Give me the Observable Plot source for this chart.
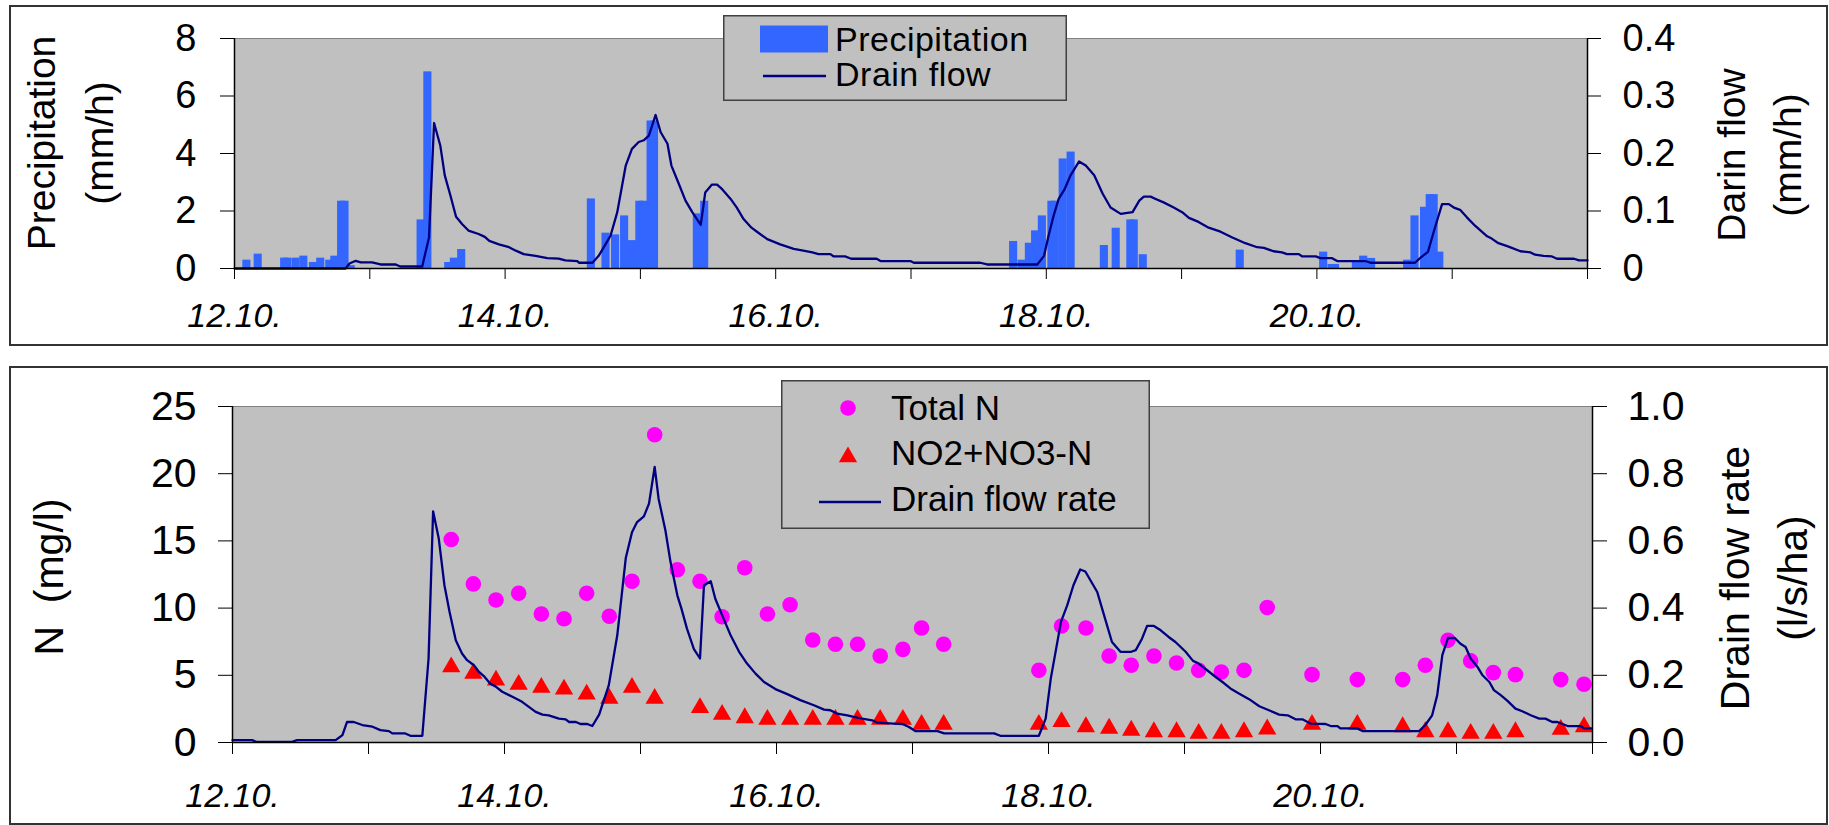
<!DOCTYPE html>
<html><head><meta charset="utf-8">
<script src="https://cdn.jsdelivr.net/npm/d3@7"></script>
<script src="https://cdn.jsdelivr.net/npm/@observablehq/plot@0.6"></script>
<style>
html,body{margin:0;padding:0;background:#fff;width:1829px;height:825px;overflow:hidden;font-family:"Liberation Sans",Arial,sans-serif;}
.panel{position:absolute;border:2px solid #333;box-sizing:border-box;}
#p1{left:9px;top:5px;width:1819px;height:341px;}
#p2{left:9px;top:366px;width:1819px;height:459px;}
.chart{position:absolute;left:0;}
#c1{top:0;} #c2{top:350px;}
.ytitle{position:absolute;transform:translate(-50%,-50%) rotate(-90deg);white-space:pre;text-align:center;color:#000;}
.legend{position:absolute;z-index:5;}
</style></head>
<body>
<div class="panel" id="p1"></div>
<div class="panel" id="p2"></div>
<div class="chart" id="c1"></div>
<div class="chart" id="c2"></div>
<div class="ytitle" style="left:71px;top:143px;font-size:39px;line-height:58px;">Precipitation
(mm/h)</div>
<div class="ytitle" style="left:1760px;top:155px;font-size:39px;line-height:56px;">Darin flow
(mm/h)</div>
<div class="ytitle" style="left:49px;top:577px;font-size:41px;line-height:46px;">N  (mg/l)</div>
<div class="ytitle" style="left:1764px;top:578px;font-size:41px;line-height:58px;">Drain flow rate
(l/s/ha)</div>
<div class="legend" id="leg1" style="left:723px;top:15px;"></div>
<div class="legend" id="leg2" style="left:781px;top:380px;"></div>
<script>
// ---------- data (hours from 12.10. 00:00) ----------
const xDomain = [0, 240];
const dayTicks = [0, 24, 48, 72, 96, 120, 144, 168, 192, 216, 240];
const dayLabels = ["12.10.", "", "14.10.", "", "16.10.", "", "18.10.", "", "20.10.", "", ""];

const precipTime = [2.2, 4.2, 8.9, 9.4, 10.9, 12.3, 14.0, 15.3, 16.9, 17.8, 19.0, 19.6, 20.7, 33.1, 34.3, 38.0, 39.0, 40.3, 63.3, 65.9, 67.6, 69.2, 70.6, 71.9, 72.6, 73.9, 74.5, 82.1, 83.4, 138.2, 139.7, 141.0, 142.1, 143.3, 145.0, 145.6, 147.0, 148.4, 154.3, 156.4, 159.0, 159.6, 161.2, 178.4, 193.2, 194.7, 195.3, 199.0, 200.3, 201.7, 208.1, 209.4, 211.1, 212.1, 212.8, 213.8];
const precipRate = [0.29, 0.50, 0.36, 0.36, 0.36, 0.43, 0.21, 0.36, 0.29, 0.43, 2.34, 2.34, 0.10, 1.69, 6.84, 0.21, 0.36, 0.66, 2.42, 1.23, 1.17, 1.83, 0.97, 2.34, 2.34, 5.13, 5.13, 1.90, 2.34, 0.94, 0.29, 0.88, 1.31, 1.83, 2.34, 2.34, 3.81, 4.05, 0.80, 1.40, 1.69, 1.69, 0.48, 0.64, 0.57, 0.14, 0.14, 0.21, 0.43, 0.35, 0.29, 1.83, 2.13, 2.57, 2.57, 0.57];

const flowTopTime = [0, 19.7, 20.4, 21.5, 22.4, 24.4, 25.9, 28.6, 29.4, 33.3, 34.5, 35.4, 36.5, 37.3, 38.3, 39.3, 40.4, 41.5, 43.3, 44.4, 45.2, 46.9, 48.7, 49.9, 51.3, 53.4, 55.5, 57.5, 58.7, 60.8, 61.1, 63.5, 64.6, 65.8, 66.7, 67.9, 69.4, 70.5, 71.7, 72.6, 73.5, 74.7, 75.6, 76.8, 77.5, 78.7, 80.0, 81.2, 82.7, 83.5, 84.7, 85.6, 86.5, 88.0, 89.1, 90.3, 91.7, 92.8, 94.5, 96.8, 99.2, 100.9, 102.5, 103.6, 105.7, 106.3, 108.3, 109.4, 113.9, 114.6, 119.9, 120.5, 132.3, 133.5, 142.4, 143.6, 144.4, 145.3, 146.2, 147.2, 148.3, 149.8, 151.0, 152.5, 154.0, 155.4, 157.2, 159.3, 160.5, 161.3, 162.5, 163.4, 164.8, 166.6, 168.1, 169.3, 171.0, 172.8, 174.9, 177.0, 179.3, 181.4, 182.6, 184.3, 185.8, 186.7, 188.8, 189.4, 191.8, 192.6, 194.7, 195.6, 200.6, 201.5, 209.4, 210.4, 211.7, 212.7, 214.2, 215.4, 216.3, 217.4, 218.6, 220.1, 222.2, 223.0, 224.2, 226.0, 228.1, 229.9, 230.7, 232.2, 233.7, 234.6, 237.6, 238.5, 240.0];
const flowTopValue = [0, 0, 0.0087, 0.0134, 0.0105, 0.0105, 0.007, 0.007, 0.0035, 0.0035, 0.054, 0.253, 0.214, 0.162, 0.127, 0.090, 0.077, 0.066, 0.060, 0.055, 0.048, 0.042, 0.037, 0.031, 0.025, 0.022, 0.018, 0.017, 0.014, 0.013, 0.010, 0.010, 0.022, 0.042, 0.057, 0.098, 0.179, 0.208, 0.220, 0.223, 0.231, 0.267, 0.237, 0.217, 0.179, 0.150, 0.118, 0.098, 0.076, 0.132, 0.146, 0.146, 0.138, 0.121, 0.106, 0.086, 0.071, 0.063, 0.051, 0.042, 0.034, 0.031, 0.028, 0.025, 0.025, 0.021, 0.021, 0.017, 0.017, 0.013, 0.013, 0.010, 0.010, 0.007, 0.007, 0.022, 0.057, 0.092, 0.121, 0.137, 0.162, 0.186, 0.179, 0.162, 0.130, 0.106, 0.095, 0.098, 0.118, 0.125, 0.125, 0.121, 0.115, 0.106, 0.098, 0.088, 0.081, 0.071, 0.064, 0.054, 0.044, 0.037, 0.036, 0.030, 0.028, 0.025, 0.025, 0.021, 0.021, 0.018, 0.018, 0.013, 0.013, 0.010, 0.010, 0.019, 0.029, 0.063, 0.112, 0.112, 0.106, 0.102, 0.089, 0.074, 0.056, 0.052, 0.044, 0.038, 0.030, 0.028, 0.024, 0.022, 0.021, 0.017, 0.017, 0.014, 0.014];

const sampleTime = [38.6, 42.5, 46.5, 50.5, 54.5, 58.5, 62.5, 66.5, 70.5, 74.5, 78.5, 82.5, 86.4, 90.4, 94.4, 98.4, 102.4, 106.4, 110.3, 114.3, 118.3, 121.6, 125.5, 142.3, 146.3, 150.6, 154.7, 158.6, 162.6, 166.6, 170.5, 174.5, 178.5, 182.6, 190.5, 198.5, 206.5, 210.5, 214.5, 218.5, 222.5, 226.4, 234.4, 238.5];
const totalN = [15.1, 11.8, 10.6, 11.1, 9.56, 9.21, 11.1, 9.39, 12.0, 22.9, 12.85, 12.0, 9.36, 13.0, 9.56, 10.25, 7.63, 7.31, 7.31, 6.44, 6.93, 8.52, 7.31, 5.37, 8.67, 8.52, 6.44, 5.75, 6.44, 5.92, 5.37, 5.25, 5.37, 10.05, 5.05, 4.68, 4.68, 5.75, 7.60, 6.07, 5.20, 5.05, 4.68, 4.33];
const nitrateN = [5.62, 5.13, 4.63, 4.31, 4.09, 3.96, 3.59, 3.27, 4.09, 3.27, null, 2.58, 2.08, 1.83, 1.71, 1.71, 1.71, 1.71, 1.71, 1.71, 1.71, 1.34, 1.34, 1.34, 1.54, 1.16, 1.05, 0.90, 0.79, 0.79, 0.67, 0.67, 0.79, 0.99, 1.34, 1.34, 1.16, 0.79, 0.79, 0.67, 0.67, 0.79, 0.97, 1.16];

const flowRateTime = [0, 3.5, 4.2, 10.5, 11.4, 18.2, 19.4, 20.2, 21.4, 22.9, 24.7, 26.1, 27.6, 28.2, 30.5, 31.4, 33.5, 34.6, 35.4, 36.4, 37.4, 38.3, 39.4, 40.5, 41.4, 42.6, 43.5, 44.5, 45.5, 46.4, 47.6, 49.4, 51.1, 52.3, 53.5, 54.7, 55.8, 57.6, 58.8, 59.4, 60.6, 61.4, 62.6, 63.5, 64.7, 66.4, 67.9, 69.4, 70.5, 71.4, 72.6, 73.5, 74.5, 75.2, 76.4, 77.3, 78.5, 79.2, 80.2, 81.4, 82.5, 83.2, 84.4, 85.2, 86.4, 87.9, 89.4, 90.8, 92.3, 93.8, 95.8, 97.9, 100.2, 102.6, 104.4, 105.5, 106.7, 108.5, 109.6, 111.1, 112.9, 113.8, 116.7, 118.2, 119.3, 120.5, 124.4, 125.6, 134.4, 135.5, 142.3, 143.5, 144.4, 146.2, 147.3, 148.4, 149.6, 150.5, 152.6, 153.8, 155.2, 156.7, 158.6, 159.4, 160.5, 161.4, 162.6, 163.8, 165.2, 166.4, 168.2, 169.5, 170.5, 172.0, 173.5, 174.7, 176.1, 177.6, 179.4, 181.2, 182.9, 184.7, 186.2, 187.6, 188.8, 190.3, 192.9, 193.8, 195.0, 195.5, 198.5, 199.4, 209.4, 210.5, 211.7, 212.6, 213.5, 214.5, 215.7, 216.7, 217.6, 218.5, 219.7, 220.6, 221.8, 222.6, 223.8, 225.0, 226.4, 227.6, 229.1, 230.6, 231.7, 232.9, 233.8, 235.6, 237.9, 238.5, 239.8];
const flowRateValue = [0.0069, 0.0069, 0.002, 0.002, 0.0069, 0.0069, 0.022, 0.061, 0.061, 0.052, 0.047, 0.037, 0.034, 0.027, 0.027, 0.020, 0.020, 0.250, 0.688, 0.607, 0.468, 0.389, 0.304, 0.265, 0.245, 0.230, 0.210, 0.195, 0.175, 0.167, 0.151, 0.136, 0.121, 0.106, 0.091, 0.083, 0.081, 0.071, 0.069, 0.061, 0.061, 0.055, 0.055, 0.049, 0.083, 0.170, 0.319, 0.549, 0.626, 0.656, 0.673, 0.711, 0.820, 0.725, 0.631, 0.537, 0.438, 0.400, 0.339, 0.279, 0.250, 0.468, 0.480, 0.428, 0.379, 0.319, 0.270, 0.235, 0.205, 0.180, 0.159, 0.144, 0.126, 0.111, 0.098, 0.096, 0.086, 0.081, 0.076, 0.071, 0.066, 0.059, 0.056, 0.055, 0.047, 0.034, 0.034, 0.027, 0.027, 0.020, 0.020, 0.071, 0.190, 0.359, 0.408, 0.468, 0.515, 0.509, 0.448, 0.379, 0.299, 0.270, 0.270, 0.275, 0.309, 0.347, 0.347, 0.334, 0.314, 0.299, 0.270, 0.243, 0.235, 0.215, 0.195, 0.180, 0.161, 0.146, 0.129, 0.108, 0.096, 0.083, 0.081, 0.069, 0.069, 0.056, 0.055, 0.049, 0.049, 0.042, 0.042, 0.034, 0.034, 0.052, 0.081, 0.141, 0.260, 0.311, 0.311, 0.294, 0.284, 0.250, 0.225, 0.200, 0.180, 0.156, 0.141, 0.124, 0.101, 0.093, 0.081, 0.071, 0.071, 0.061, 0.061, 0.049, 0.049, 0.042, 0.042];

const topLeftTicks = [0, 2, 4, 6, 8];
const topRightLabels = ["0", "0.1", "0.2", "0.3", "0.4"];
const botLeftTicks = [0, 5, 10, 15, 20, 25];
const botRightLabels = ["0.0", "0.2", "0.4", "0.6", "0.8", "1.0"];

(function () {
// ---------- tables ----------
const precip = precipTime.map((t, i) => ({t, v: precipRate[i]}));
const flowTop = flowTopTime.map((t, i) => ({t, v: flowTopValue[i]}));
const nTotal = sampleTime.map((t, i) => ({t, v: totalN[i]}));
const nNitrate = sampleTime.map((t, i) => ({t, v: nitrateN[i]})).filter(d => d.v != null);
const flowRate = flowRateTime.map((t, i) => ({t, v: flowRateValue[i]}));

const topFactor = 8 / 0.4;   // right axis (0..0.4) onto left (0..8)
const botFactor = 25 / 1.0;  // right axis (0..1.0) onto left (0..25)
const barHalf = 0.72;        // hours
const triR = 6.8;
const FONT = "Liberation Sans, Arial, sans-serif";
const baseStyle = {background: "transparent", color: "#000", fontFamily: FONT, overflow: "visible"};

const topChart = Plot.plot({
  width: 1829, height: 345,
  marginLeft: 234, marginRight: 242, marginTop: 38, marginBottom: 77,
  x: {type: "linear", domain: xDomain},
  y: {domain: [0, 8]},
  style: baseStyle,
  marks: [
    Plot.frame({fill: "#c0c0c0", stroke: "#808080"}),
    Plot.rectY(precip, {x1: d => d.t - barHalf, x2: d => d.t + barHalf, y: "v", fill: "#3366ff"}),
    Plot.line(flowTop, {x: "t", y: d => d.v * topFactor, stroke: "#000080", strokeWidth: 2.3}),
    Plot.ruleY([0], {stroke: "#000", strokeWidth: 1.5}),
    Plot.ruleX(xDomain, {stroke: "#000", strokeWidth: 1.5}),
    Plot.axisY({anchor: "left", ticks: topLeftTicks, tickSize: 14, tickPadding: 24, fontSize: 38, label: null}),
    Plot.axisY({anchor: "right", ticks: topLeftTicks, tickFormat: d => topRightLabels[topLeftTicks.indexOf(d)], tickSize: 13, tickPadding: 22, fontSize: 38, label: null}),
    Plot.axisX({ticks: dayTicks, tickFormat: d => dayLabels[dayTicks.indexOf(d)], tickSize: 11, tickPadding: 23, fontSize: 34, fontStyle: "italic", label: null})
  ]
});
document.getElementById("c1").appendChild(topChart);

const botChart = Plot.plot({
  width: 1829, height: 475,
  marginLeft: 232, marginRight: 237, marginTop: 56, marginBottom: 83,
  x: {type: "linear", domain: xDomain},
  y: {domain: [0, 25]},
  style: baseStyle,
  marks: [
    Plot.frame({fill: "#c0c0c0", stroke: "#808080"}),
    Plot.dot(nTotal, {x: "t", y: "v", r: 7.8, fill: "#ff00ff", symbol: "circle"}),
    Plot.dot(nNitrate, {x: "t", y: "v", r: triR, fill: "#ff0000", symbol: "triangle"}),
    Plot.line(flowRate, {x: "t", y: d => d.v * botFactor, stroke: "#000080", strokeWidth: 2.3}),
    Plot.ruleY([0], {stroke: "#000", strokeWidth: 1.5}),
    Plot.ruleX(xDomain, {stroke: "#000", strokeWidth: 1.5}),
    Plot.axisY({anchor: "left", ticks: botLeftTicks, tickSize: 14, tickPadding: 22, fontSize: 41, label: null}),
    Plot.axisY({anchor: "right", ticks: botLeftTicks, tickFormat: d => botRightLabels[botLeftTicks.indexOf(d)], tickSize: 14, tickPadding: 21, fontSize: 41, label: null}),
    Plot.axisX({ticks: dayTicks, tickFormat: d => dayLabels[dayTicks.indexOf(d)], tickSize: 12, tickPadding: 28, fontSize: 34, fontStyle: "italic", label: null})
  ]
});
document.getElementById("c2").appendChild(botChart);

// ---------- legends ----------
function legend(id, w, h, items, fontSize, spacing) {
  const svg = d3.select("#" + id).append("svg").attr("width", w).attr("height", h).style("display", "block");
  svg.append("rect").attr("x", 0.75).attr("y", 0.75).attr("width", w - 1.5).attr("height", h - 1.5)
    .attr("fill", "#c0c0c0").attr("stroke", "#404040").attr("stroke-width", 1.5);
  items.forEach(it => {
    const g = svg.append("g");
    if (it.kind === "rect") g.append("rect").attr("x", it.sx).attr("y", it.cy - 13.5).attr("width", 68).attr("height", 27).attr("fill", it.color);
    if (it.kind === "line") g.append("line").attr("x1", it.sx).attr("x2", it.sx + it.len).attr("y1", it.cy).attr("y2", it.cy).attr("stroke", it.color).attr("stroke-width", 2.3);
    if (it.kind === "circle") g.append("circle").attr("cx", it.sx).attr("cy", it.cy).attr("r", 7.8).attr("fill", it.color);
    if (it.kind === "triangle") g.append("path").attr("transform", `translate(${it.sx},${it.cy})`).attr("d", d3.symbol(d3.symbolTriangle, Math.PI * triR * triR)()).attr("fill", it.color);
    g.append("text").attr("x", it.tx).attr("y", it.ty).attr("font-family", FONT).attr("font-size", fontSize)
      .attr("letter-spacing", spacing).attr("fill", "#000").text(it.label);
  });
}
legend("leg1", 344, 86, [
  {kind: "rect", sx: 37, cy: 24, color: "#3366ff", label: "Precipitation", tx: 112, ty: 35.5},
  {kind: "line", sx: 40, len: 63, cy: 61, color: "#000080", label: "Drain flow", tx: 112, ty: 71}
], 34, 0.5);
legend("leg2", 369, 149, [
  {kind: "circle", sx: 67, cy: 28, color: "#ff00ff", label: "Total N", tx: 110, ty: 39.5},
  {kind: "triangle", sx: 67, cy: 77, color: "#ff0000", label: "NO2+NO3-N", tx: 110, ty: 85},
  {kind: "line", sx: 38, len: 62, cy: 122, color: "#000080", label: "Drain flow rate", tx: 110, ty: 130.5}
], 35, 0);
})();
</script>
</body></html>
